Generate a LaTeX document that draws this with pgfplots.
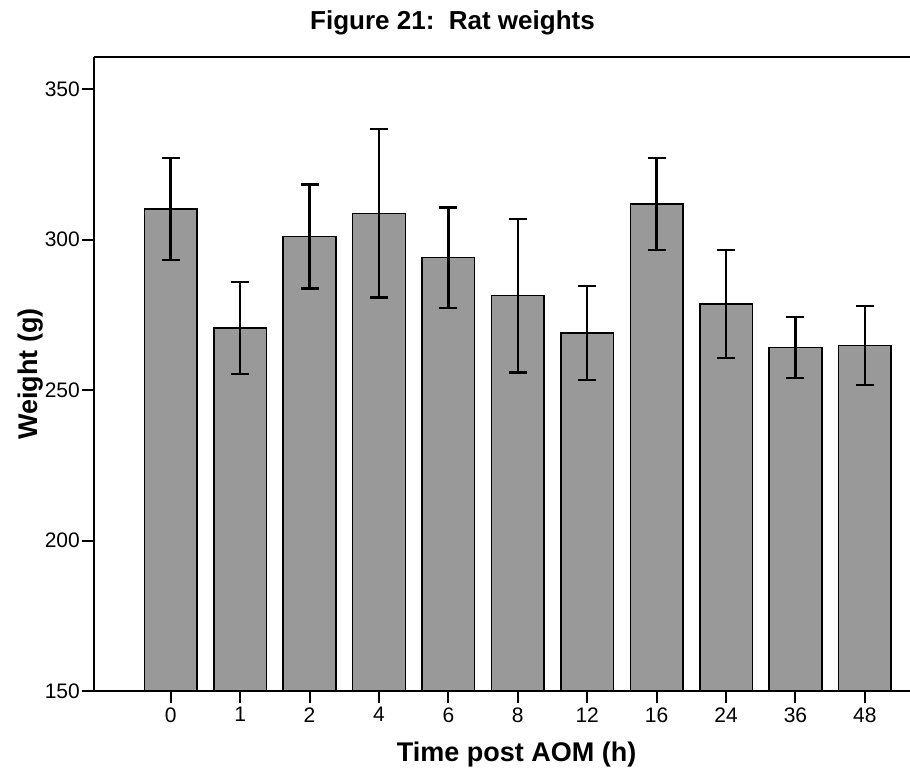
\documentclass[border=0pt]{standalone}
\usepackage{fontspec}
\setmainfont{Liberation Sans}
\usepackage{pgfplots}
\usepackage{pgfplotstable}
\pgfplotsset{compat=1.18}
\definecolor{barfill}{RGB}{153,153,153}
\pgfplotstableread{
x y e
0 310.2 16.9
1 270.7 15.3
2 301.1 17.3
3 308.7 28.0
4 294.0 16.7
5 281.4 25.5
6 269.0 15.6
7 311.8 15.3
8 278.6 18.0
9 264.2 10.1
10 264.8 13.1
}\ratdata
\begin{document}
\begin{tikzpicture}[x=1pt,y=1pt]
\begin{axis}[
  at={(0,0)}, anchor=south west,
  scale only axis, width=816pt, height=634pt,
  xmin=-1.105, xmax=10.65, ymin=150, ymax=360.7,
  axis x line=box, axis y line=left,
  axis line style={-, line width=2pt, black},
  xtick={0,...,10}, xticklabels={0,1,2,4,6,8,12,16,24,36,48},
  ytick={150,200,250,300,350},
  tick align=outside, xtick pos=left, ytick pos=left,
  major tick length=12pt,
  tick style={line width=2pt, black},
  /pgf/number format/assume math mode=true,
  ticklabel style={font=\fontsize{21}{24}\selectfont},
  yticklabel style={inner sep=1pt, xshift=-1pt},
  xticklabel style={yshift=-1pt},
  xlabel={Time post AOM (h)},
  ylabel={Weight (g)},
  x label style={at={(axis description cs:0.518,0)}, anchor=base, yshift=-70pt, font=\fontsize{27}{30}\selectfont\bfseries},
  y label style={at={(axis description cs:-0.0772,0.5)}, anchor=center, font=\fontsize{27}{30}\selectfont\bfseries},
  ybar, bar width=52.6pt,
]
\addplot[fill=barfill, draw=black, line width=1.5pt,
  error bars/.cd, y dir=both, y explicit, error mark=|,
  error bar style={line width=2.5pt, black},
  error mark options={mark size=9pt, line width=2.5pt, black}]
  table[x=x, y=y, y error=e] {\ratdata};
\end{axis}
\node[anchor=base, font=\fontsize{26}{30}\selectfont\bfseries] at (358.5,661) {Figure 21:\ \ Rat weights};
\pgfresetboundingbox
\useasboundingbox (-94,-78) rectangle (816,691);
\end{tikzpicture}
\end{document}
